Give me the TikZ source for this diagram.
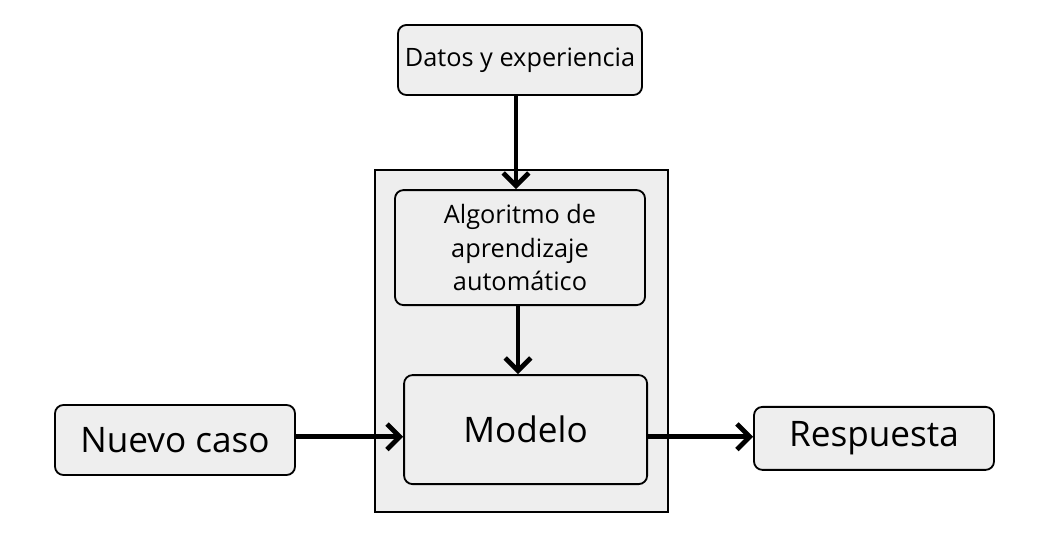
\documentclass[tikz,border=0pt]{standalone}
\usepackage{fontspec}
\setmainfont{Open Sans}
\usepackage{xcolor}
\usepackage{tikz}
\usetikzlibrary{arrows.meta, positioning, calc}
\definecolor{boxgray}{RGB}{238,238,238}
\tikzset{box/.style={rectangle,draw,line width=1.3pt,fill=boxgray,rounded corners=6pt,align=center,inner sep=0pt},
         frame/.style={rectangle,draw,line width=1.3pt,fill=boxgray,inner sep=0pt},
         smalltext/.style={font=\fontsize{18}{24}\selectfont},
         bigtext/.style={font=\fontsize{25}{30}\selectfont},
         arrow/.style={-{Straight Barb[length=3.2mm,width=6.4mm]},line width=3.4pt}}

\begin{document}
\begin{tikzpicture}[x=1cm,y=1cm]
    \useasboundingbox (0,0) rectangle (26.25,13.75);
    % Frame around learning part
    \node (frame) at (13.04,5.225) [frame,minimum width=7.325cm,minimum height=8.55cm]{};
    % Boxes
    \node (datos) at (13.0,12.25) [box,smalltext,minimum width=6.1cm,minimum height=1.75cm]{Datos y experiencia};
    \node (algo) at (13.0,7.56) [box,smalltext,minimum width=6.25cm,minimum height=2.875cm]{Algoritmo de\\aprendizaje\\automático};
    \node (modelo) at (13.14,3.01) [box,bigtext,minimum width=6.075cm,minimum height=2.725cm]{Modelo};
    \node (nuevo) at (4.375,2.75) [box,bigtext,minimum width=6.0cm,minimum height=1.75cm]{Nuevo caso};
    \node (resp) at (21.85,2.79) [box,bigtext,minimum width=6.0cm,minimum height=1.575cm]{Respuesta};
    % Arrows
    \draw[arrow] ([xshift=-0.1cm]datos.south) -- ([xshift=-0.1cm]datos.south |- algo.north);
    \draw[arrow] ([xshift=-0.05cm]algo.south) -- ([xshift=-0.05cm]algo.south |- modelo.north);
    \draw[arrow] ([yshift=0.08cm]nuevo.east) -- ([yshift=0.08cm]nuevo.east -| modelo.west);
    \draw[arrow] ([yshift=0.08cm]nuevo.east -| modelo.east) -- ([yshift=0.08cm]nuevo.east -| resp.west);
\end{tikzpicture}
\end{document}
